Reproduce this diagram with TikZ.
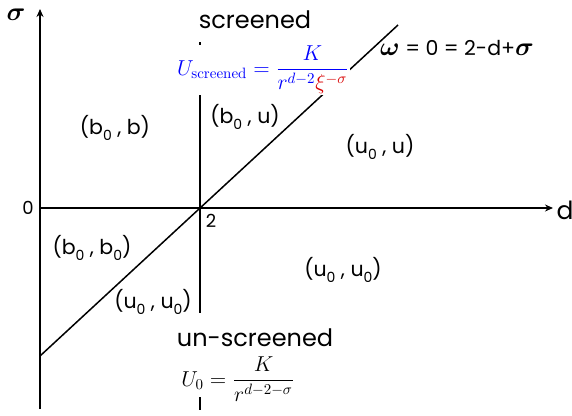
\documentclass[tikz,border=0pt]{standalone}
\usepackage{amsmath}
\usepackage{bm}
\usepackage{graphicx}
\usepackage{fontspec}
\setsansfont{Poppins}
\usetikzlibrary{arrows.meta}
\newcommand\lsub[1]{\raisebox{-0.28em}{\fontsize{14}{16}\selectfont #1}}
\begin{document}
\begin{tikzpicture}[x=1pt,y=-1pt,
  lbl/.style={font=\sffamily\fontsize{20.5}{24}\selectfont, inner sep=1pt},
  big/.style={font=\sffamily\fontsize{24}{28}\selectfont, inner sep=1pt},
  frm/.style={font=\Large, inner sep=2pt},
  axis/.style={line width=1.6pt, -{Stealth[length=8pt,width=7pt]}},
  ln/.style={line width=1.5pt}]
\useasboundingbox (0,0) rectangle (572,415);
% coordinates
\coordinate (O) at (40,208);
\coordinate (ytop) at (40,9);
\coordinate (ybot) at (40,409);
\coordinate (xend) at (553,208);
\coordinate (vtop) at (200,42);
\coordinate (vmid) at (200,313);
\coordinate (ttop) at (200,397);
\coordinate (vbot) at (200,410);
\coordinate (dstart) at (40,356);
\coordinate (dend) at (398,25);
% axes
\draw[axis] (ybot) -- (ytop);
\draw[axis] (O) -- (xend);
\draw[ln] (vtop) -- (vmid);
\draw[ln] (ttop) -- (vbot);
\draw[ln] (dstart) -- (dend);
% labels
\node (sig) at (16,15) {\scalebox{2.6}{$\bm{\sigma}$}};
\node[lbl, font=\sffamily\fontsize{25}{28}\selectfont] (dl) at (565,210) {d};
\node[lbl, font=\sffamily\fontsize{18}{20}\selectfont] (zero) at (28,208) {0};
\node[lbl, font=\sffamily\fontsize{18}{20}\selectfont] (two) at (211,221) {2};
\node[big, fill=white, inner sep=3pt] (scr) at (255,20) {screened};
\node[frm, fill=white, text=blue, inner sep=1pt] (fs) at (263,70) {\scalebox{1.5}{$U_{\mathrm{screened}}=\dfrac{K}{r^{d-2}\textcolor{red!85!black}{\xi^{-\sigma}}}$}};
\node[lbl, anchor=west] (om) at (379,48) {\scalebox{1.25}{$\bm{\omega}$} = 0 = 2-d+\scalebox{1.25}{$\bm{\sigma}$}};
\node[lbl] (bb) at (115,128) {(b\lsub{0} , b)};
\node[lbl] (bu) at (245,117) {(b\lsub{0} , u)};
\node[lbl] (uu) at (380,147) {(u\lsub{0} , u)};
\node[lbl] (b0b0) at (92,248) {(b\lsub{0} , b\lsub{0})};
\node[lbl] (u0l) at (153,302) {(u\lsub{0} , u\lsub{0})};
\node[lbl] (u0r) at (343,270) {(u\lsub{0} , u\lsub{0})};
\node[big, inner sep=0pt] (uns) at (255,338) {un-screened};
\node[frm, inner sep=0pt] (f0) at (238,379) {\scalebox{1.5}{$U_0=\dfrac{K}{r^{d-2-\sigma}}$}};
\end{tikzpicture}
\end{document}
